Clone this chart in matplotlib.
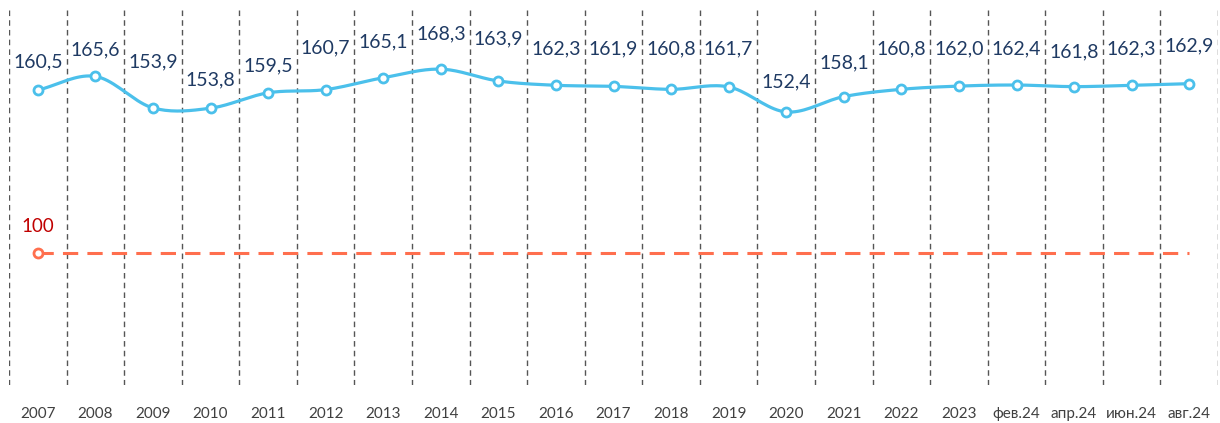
import numpy as np
import matplotlib
matplotlib.use('Agg')
import matplotlib.pyplot as plt
from matplotlib import rcParams

rcParams.update({'font.family': ['Lato', 'DejaVu Sans']})

categories = ['2007', '2008', '2009', '2010', '2011', '2012', '2013', '2014', '2015',
              '2016', '2017', '2018', '2019', '2020', '2021', '2022', '2023',
              'фев.24', 'апр.24', 'июн.24', 'авг.24']
values = [160.5, 165.6, 153.9, 153.8, 159.5, 160.7, 165.1, 168.3, 163.9,
          162.3, 161.9, 160.8, 161.7, 152.4, 158.1, 160.8, 162.0,
          162.4, 161.8, 162.3, 162.9]
base = [100] * len(categories)

# label offsets above points (px), hand-placed like in the source
label_dy = [28, 27, 46, 28, 27, 42, 36, 35, 42, 36, 37, 40, 38, 30, 34, 40, 37, 36, 35, 36, 38]

BLUE = '#4BC0EB'
RED = '#FF6F4E'
NAVY = '#1F3A63'


def catmull(x, y, n=20):
    # smooth curve through points (Excel-like smoothed line)
    x = np.asarray(x, float)
    y = np.asarray(y, float)
    px = np.concatenate([[2 * x[0] - x[1]], x, [2 * x[-1] - x[-2]]])
    py = np.concatenate([[2 * y[0] - y[1]], y, [2 * y[-1] - y[-2]]])
    xs, ys = [], []
    t = np.linspace(0, 1, n)
    for i in range(1, len(px) - 2):
        for p, out in ((px, xs), (py, ys)):
            p0, p1, p2, p3 = p[i - 1], p[i], p[i + 1], p[i + 2]
            out.extend(0.5 * ((2 * p1) + (-p0 + p2) * t
                              + (2 * p0 - 5 * p1 + 4 * p2 - p3) * t ** 2
                              + (-p0 + 3 * p1 - 3 * p2 + p3) * t ** 3))
    return np.array(xs), np.array(ys)


fig = plt.figure(figsize=(12.2, 4.23), dpi=100)
ax = fig.add_axes([9 / 1220, 1 - 385 / 423, 1209 / 1220, 377 / 423])
x = np.arange(len(categories))

for b in np.arange(-0.5, len(categories) + 0.5):
    ax.axvline(b, color='#555555', lw=1, ls=(0, (4, 3)), zorder=0)

sx, sy = catmull(x, values)
ax.plot(sx, sy, color=BLUE, lw=2.3, zorder=2, solid_capstyle='round')
ax.plot(x, values, ls='none', marker='o', ms=6.5, mfc='white', mec=BLUE, mew=2, zorder=3)

ax.plot(x, base, color=RED, lw=2.2, ls=(0, (5, 3)), zorder=2)
ax.plot(x[0], base[0], ls='none', marker='o', ms=6.5, mfc='white', mec=RED, mew=2, zorder=3)
ax.annotate('100', (x[0], base[0]), xytext=(0, 27), textcoords='offset pixels',
            ha='center', va='center', fontsize=13.5, color='#C00000')

for xi, v, dy in zip(x, values, label_dy):
    ax.annotate(f'{v:.1f}'.replace('.', ','), (xi, v), xytext=(0, dy),
                textcoords='offset pixels', ha='center', va='center',
                fontsize=14, color=NAVY)

ax.set_xlim(-0.5, len(categories) - 0.5)
ax.set_ylim(51, 191)
ax.set_yticks([])
ax.set_xticks(x)
ax.set_xticklabels(categories, fontsize=11, color='#404040')
ax.tick_params(axis='x', length=0, pad=16)
for s in ax.spines.values():
    s.set_visible(False)

fig.savefig('out.png', dpi=100)
